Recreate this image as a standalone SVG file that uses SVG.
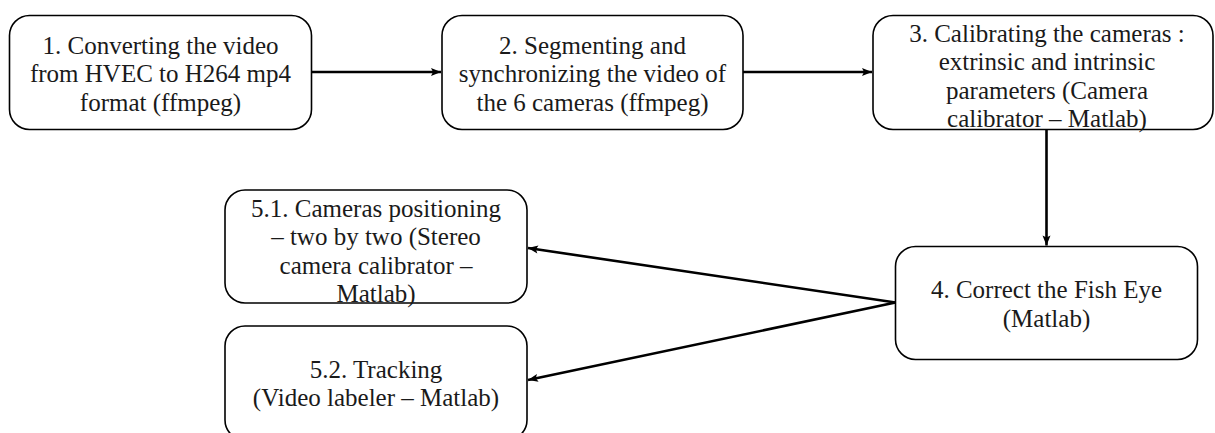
<svg xmlns="http://www.w3.org/2000/svg" width="1215" height="433" viewBox="0 0 1215 433">
<style>
.box{fill:#fff;stroke:#000;stroke-width:1.6}
.t{font-family:"Liberation Serif","DejaVu Serif",serif;font-size:25px;fill:#1a1a1a;text-anchor:middle}
.c{stroke:#000;stroke-width:2.6;fill:none}
</style>
<defs>
<marker id="ah" markerUnits="userSpaceOnUse" viewBox="-1 -5 12 10" markerWidth="12" markerHeight="10" refX="10" refY="0" orient="auto">
<path d="M0,-4 L10,0 L0,4 L2,0 z" fill="#000"/>
</marker>
</defs>
<rect width="1215" height="433" fill="#fff"/>
<g id="connectors">
<line class="c" x1="311.5" y1="72" x2="441" y2="72" marker-end="url(#ah)"/>
<line class="c" x1="743" y1="72" x2="872" y2="72" marker-end="url(#ah)"/>
<line class="c" x1="1046.5" y1="129.5" x2="1046.5" y2="245.5" marker-end="url(#ah)"/>
<line class="c" x1="895.5" y1="302.5" x2="528" y2="248" marker-end="url(#ah)"/>
<line class="c" x1="895.5" y1="302.5" x2="528" y2="380" marker-end="url(#ah)"/>
</g>
<g id="n1">
<rect class="box" x="9.5" y="15.5" width="302" height="114" rx="20"/>
<text class="t" x="160.5" y="53.5">1. Converting the video</text>
<text class="t" x="160.5" y="82">from HVEC to H264 mp4</text>
<text class="t" x="160.5" y="110.5">format (ffmpeg)</text>
</g>
<g id="n2">
<rect class="box" x="442" y="15.5" width="301" height="114" rx="20"/>
<text class="t" x="592.5" y="53.5">2. Segmenting and</text>
<text class="t" x="592.5" y="82">synchronizing the video of</text>
<text class="t" x="592.5" y="110.5">the 6 cameras (ffmpeg)</text>
</g>
<g id="n3">
<rect class="box" x="873" y="15.5" width="340" height="114" rx="20"/>
<text class="t" x="1047" y="41.5">3. Calibrating the cameras :</text>
<text class="t" x="1047" y="70">extrinsic and intrinsic</text>
<text class="t" x="1047" y="98.5">parameters (Camera</text>
<text class="t" x="1047" y="127">calibrator – Matlab)</text>
</g>
<g id="n4">
<rect class="box" x="895.5" y="246.5" width="302" height="113" rx="20"/>
<text class="t" x="1046.5" y="298">4. Correct the Fish Eye</text>
<text class="t" x="1046.5" y="327">(Matlab)</text>
</g>
<g id="n51">
<rect class="box" x="225" y="190" width="302" height="113" rx="20"/>
<text class="t" x="376" y="216.5">5.1. Cameras positioning</text>
<text class="t" x="376" y="245">– two by two (Stereo</text>
<text class="t" x="376" y="273.5">camera calibrator –</text>
<text class="t" x="376" y="302">Matlab)</text>
</g>
<g id="n52">
<rect class="box" x="225" y="326" width="302" height="114" rx="20"/>
<text class="t" x="376" y="378">5.2. Tracking</text>
<text class="t" x="376" y="406">(Video labeler – Matlab)</text>
</g>
</svg>
